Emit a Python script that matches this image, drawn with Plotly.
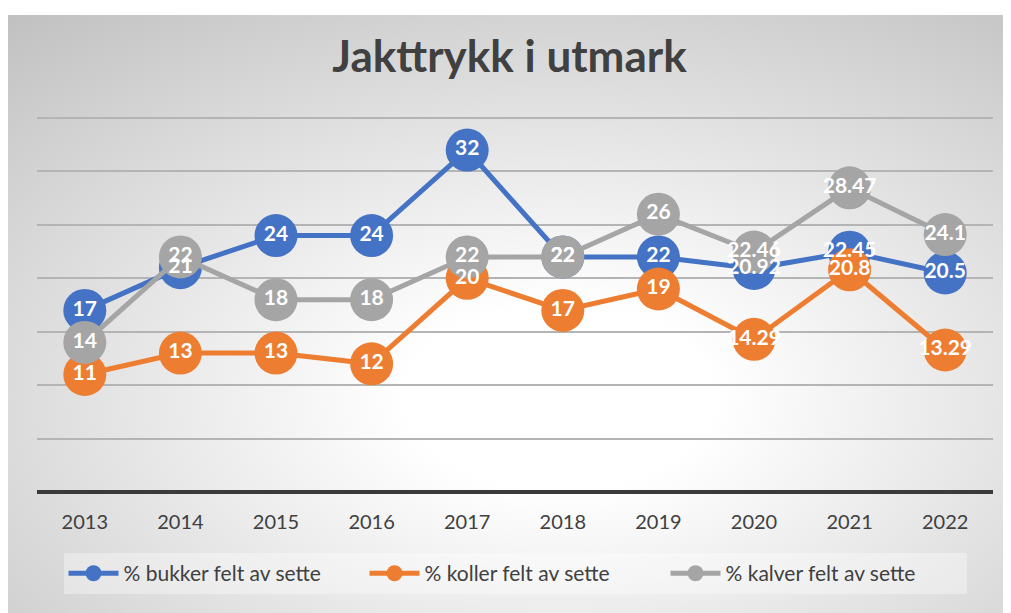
import base64
import plotly.graph_objects as go

years = ["2013", "2014", "2015", "2016", "2017", "2018", "2019", "2020", "2021", "2022"]
bukker = [17, 21, 24, 24, 32, 22, 22, 20.92, 22.45, 20.5]
koller = [11, 13, 13, 12, 20, 17, 19, 14.29, 20.8, 13.29]
kalver = [14, 22, 18, 18, 22, 22, 26, 22.46, 28.47, 24.1]

series = [
    ("% bukker felt av sette", bukker, "#4472C4"),
    ("% koller felt av sette", koller, "#ED7D31"),
    ("% kalver felt av sette", kalver, "#A5A5A5"),
]

# page body has an 8px margin, so the figure is a bit smaller than the window
W, H = 1003, 605
ml, mr, mt, mb = 29, 18, 109, 121

# radial grey background as svg
svg = f"""<svg xmlns='http://www.w3.org/2000/svg' width='{W}' height='{H}' viewBox='0 0 {W} {H}' preserveAspectRatio='none'>
<defs><radialGradient id='g' cx='0.55' cy='0.64' r='0.85'>
<stop offset='0' stop-color='#ffffff'/><stop offset='0.18' stop-color='#ffffff'/><stop offset='1' stop-color='#c0c0c0'/>
</radialGradient></defs>
<rect width='{W}' height='{H}' fill='#ffffff'/>
<rect x='0' y='7' width='{W}' height='{H-7}' fill='url(#g)'/>
</svg>"""
bg = "data:image/svg+xml;base64," + base64.b64encode(svg.encode()).decode()

pw, ph = W - ml - mr, H - mt - mb

fig = go.Figure()
for name, vals, col in series:
    fig.add_trace(go.Scatter(
        x=years, y=vals, name=name, mode="lines+markers",
        line=dict(color=col, width=5),
        marker=dict(color=col, size=43),
    ))
for name, vals, col in series:
    fig.add_trace(go.Scatter(
        x=years, y=vals, mode="text", showlegend=False, hoverinfo="skip",
        text=[f"{v:g}" for v in vals], textposition="middle center",
        textfont=dict(family="Lato", size=21, color="white", weight="bold"),
    ))

fig.update_layout(
    width=W, height=H,
    margin=dict(l=ml, r=mr, t=mt, b=mb),
    paper_bgcolor="white", plot_bgcolor="rgba(0,0,0,0)",
    title=dict(text="<b>Jakttrykk i utmark</b>", x=0.5, xanchor="center", y=1 - 49 / H, yanchor="middle",
               font=dict(family="Lato", size=44, color="#404040")),
    font=dict(family="Lato", color="#404040"),
    showlegend=True,
    legend=dict(orientation="h", x=0.5, xanchor="center", y=-0.163, yanchor="top",
                bgcolor="rgba(255,255,255,0.35)", font=dict(size=21, color="#404040"),
                entrywidth=236, itemwidth=50),
    images=[dict(source=bg, xref="paper", yref="paper", x=-ml / pw, y=1 + mt / ph,
                 sizex=W / pw, sizey=H / ph, xanchor="left", yanchor="top",
                 sizing="stretch", layer="below")],
)
fig.update_xaxes(type="category", range=[-0.5, 9.5], showgrid=False, showline=False, zeroline=False,
                 ticks="outside", ticklen=12, tickcolor="rgba(0,0,0,0)",
                 tickfont=dict(size=20, color="#404040"))
fig.update_yaxes(range=[0, 35.1], tickvals=[5, 10, 15, 20, 25, 30, 35], showticklabels=False,
                 gridcolor="#b4b4b4", gridwidth=1.5,
                 zeroline=True, zerolinecolor="#3a3a3a", zerolinewidth=4)

fig.write_html("out.html")
